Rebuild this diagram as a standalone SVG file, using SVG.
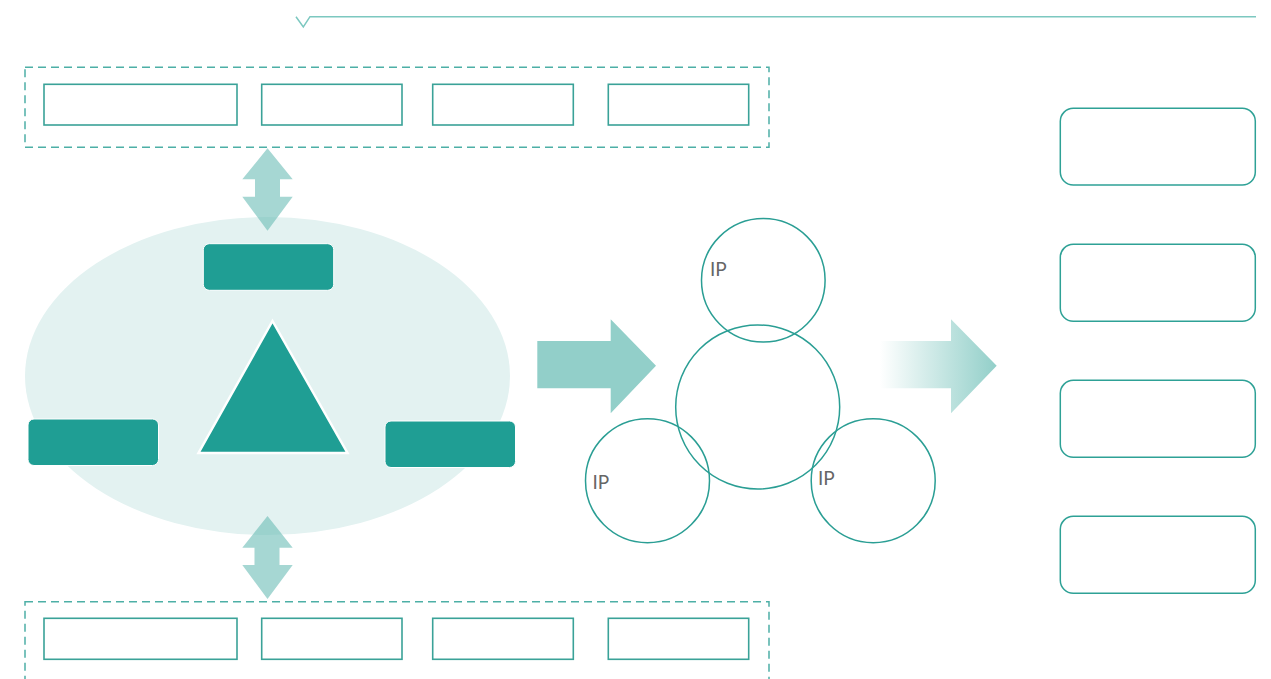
<svg xmlns="http://www.w3.org/2000/svg" width="1271" height="679" viewBox="0 0 1271 679">
<style>
.dash{fill:none;stroke:#4DAFA6;stroke-width:1.5;stroke-dasharray:8 5}
.box{fill:#fff;stroke:#3AA298;stroke-width:1.6}
.rbox{fill:#fff;stroke:#2EA196;stroke-width:1.5}
.solid{fill:#1F9E94;stroke:#fff;stroke-width:1}
.circ{fill:none;stroke:#2A9E94;stroke-width:1.5}
.dbl{fill:#6ABDB5;fill-opacity:0.6}
.ip{font-family:Lato,"Open Sans",sans-serif;font-size:19px;fill:#666}
</style>
<defs>
<linearGradient id="fade" x1="880" y1="0" x2="997" y2="0" gradientUnits="userSpaceOnUse">
<stop offset="0" stop-color="#92CFC9" stop-opacity="0"/>
<stop offset="1" stop-color="#92CFC9" stop-opacity="1"/>
</linearGradient>
</defs>
<rect width="1271" height="679" fill="#fff"/>
<g id="header">
<polyline points="296,16.7 303.3,27 310,16.7 1256,16.7" fill="none" stroke="#7CC8C0" stroke-width="1.5"/>
</g>
<g id="top-group">
<rect class="dash" x="25" y="67.3" width="744" height="80"/>
<rect class="box" x="44" y="84.3" width="193" height="40.7"/>
<rect class="box" x="261.7" y="84.3" width="140.3" height="40.7"/>
<rect class="box" x="432.7" y="84.3" width="140.6" height="40.7"/>
<rect class="box" x="608.3" y="84.3" width="140.4" height="40.7"/>
</g>
<g id="bottom-group">
<rect class="dash" x="25" y="601.7" width="744" height="90"/>
<rect class="box" x="44" y="618.3" width="193" height="41"/>
<rect class="box" x="261.7" y="618.3" width="140.3" height="41"/>
<rect class="box" x="432.7" y="618.3" width="140.6" height="41"/>
<rect class="box" x="608.3" y="618.3" width="140.4" height="41"/>
</g>
<g id="ellipse-group">
<ellipse cx="267.5" cy="376" rx="242.5" ry="159" fill="#E3F2F1"/>
<rect id="node-top" class="solid" x="203.3" y="243.7" width="130.4" height="46.6" rx="6"/>
<rect id="node-left" class="solid" x="28" y="419" width="130.5" height="46.5" rx="6"/>
<rect id="node-right" class="solid" x="385" y="421" width="130.5" height="46.5" rx="6"/>
<polygon id="triangle" points="272.5,321 198.5,453 347.5,453" fill="#1F9E94" stroke="#fff" stroke-width="2.5" stroke-linejoin="miter"/>
</g>
<g id="connectors">
<polygon class="dbl" points="267.5,148.3 292.7,179.3 280,179.3 280,196.7 292.7,196.7 267.5,230.7 242.3,196.7 255,196.7 255,179.3 242.3,179.3"/>
<polygon class="dbl" points="267.5,516 292.7,547.7 279.5,547.7 279.5,565 292.7,565 267.5,599 242.3,565 254.5,565 254.5,547.7 242.3,547.7"/>
<polygon points="537.3,341 610.7,341 610.7,319.3 656,365.7 610.7,413.3 610.7,388.3 537.3,388.3" fill="#92CFC9"/>
<polygon points="880,341 951,341 951,319.3 996.7,365.7 951,413.3 951,388.3 880,388.3" fill="url(#fade)"/>
</g>
<g id="circles">
<circle class="circ" cx="763.3" cy="280.3" r="61.8"/>
<circle class="circ" cx="757.7" cy="407" r="82"/>
<circle class="circ" cx="647.5" cy="480.7" r="62"/>
<circle class="circ" cx="873.2" cy="480.7" r="62"/>
<text class="ip" x="710" y="276">IP</text>
<text class="ip" x="592.5" y="489">IP</text>
<text class="ip" x="818" y="485">IP</text>
</g>
<g id="right-boxes">
<rect class="rbox" x="1060.3" y="108.3" width="195" height="76.7" rx="13"/>
<rect class="rbox" x="1060.3" y="244.3" width="195" height="77" rx="13"/>
<rect class="rbox" x="1060.3" y="380.3" width="195" height="77" rx="13"/>
<rect class="rbox" x="1060.3" y="516.3" width="195" height="77" rx="13"/>
</g>
</svg>
